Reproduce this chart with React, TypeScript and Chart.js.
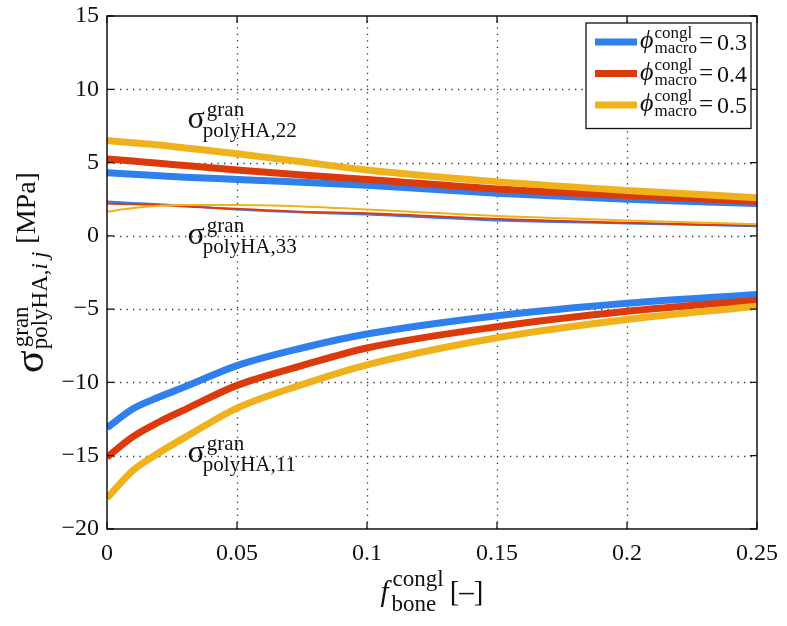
import React, { useEffect, useRef } from 'react';
import { Chart, registerables } from 'chart.js';

Chart.register(...registerables);

// ---- data ----
const fBone = [0, 0.01, 0.02, 0.03, 0.05, 0.075, 0.1, 0.15, 0.2, 0.25];
const phiMacro = [0.3, 0.4, 0.5];
const seriesColors = ['#2f80ed', '#dd3a0c', '#efb21c'];

const sigma11_phi03 = [-13.1, -11.8, -11.0, -10.3, -8.85, -7.65, -6.7, -5.45, -4.6, -4.0];
const sigma11_phi04 = [-15.1, -13.7, -12.7, -11.85, -10.2, -8.85, -7.65, -6.2, -5.15, -4.4];
const sigma11_phi05 = [-17.9, -16.0, -14.8, -13.75, -11.75, -10.15, -8.8, -6.95, -5.7, -4.8];

const sigma22_phi03 = [4.3, 4.2, 4.1, 4.0, 3.85, 3.65, 3.45, 2.9, 2.5, 2.2];
const sigma22_phi04 = [5.25, 5.1, 4.95, 4.8, 4.5, 4.15, 3.85, 3.2, 2.75, 2.35];
const sigma22_phi05 = [6.5, 6.35, 6.2, 6.0, 5.6, 5.05, 4.5, 3.7, 3.1, 2.6];

const sigma33_phi03 = [2.35, 2.25, 2.15, 2.05, 1.8, 1.6, 1.45, 1.05, 0.85, 0.65];
const sigma33_phi04 = [2.2, 2.15, 2.1, 2.0, 1.85, 1.65, 1.55, 1.15, 0.9, 0.7];
const sigma33_phi05 = [1.65, 1.9, 2.05, 2.1, 2.1, 2.0, 1.8, 1.35, 1.05, 0.8];

const xTicks = [0, 0.05, 0.1, 0.15, 0.2, 0.25];
const yTicks = [15, 10, 5, 0, -5, -10, -15, -20];

const labelSubs = ['polyHA,22', 'polyHA,33', 'polyHA,11'];
const labelX = [0.031, 0.031, 0.031];
const labelY = [7.35, -0.55, -15.45];

const SERIF = '"Liberation Serif", "Times New Roman", serif';
const fnt = (size: number, italic = false) => `${italic ? 'italic ' : ''}${size}px ${SERIF}`;

function txt(ctx: CanvasRenderingContext2D, s: string, x: number, y: number, size: number, italic = false) {
  ctx.font = fnt(size, italic);
  ctx.fillText(s, x, y);
  return ctx.measureText(s).width;
}
function w(ctx: CanvasRenderingContext2D, s: string, size: number, italic = false) {
  ctx.font = fnt(size, italic);
  return ctx.measureText(s).width;
}

const decorPlugin = {
  id: 'decor',
  beforeDatasetsDraw(chart: any) {
    const { ctx, chartArea: a, scales } = chart;
    const xs = scales.x, ys = scales.y;
    ctx.save();
    ctx.strokeStyle = '#333';
    ctx.lineWidth = 1.3;
    ctx.setLineDash([1.3, 5.2]);
    xTicks.forEach((v) => {
      if (v === xs.min || v === xs.max) return;
      const px = Math.round(xs.getPixelForValue(v)) + 0.5;
      ctx.beginPath(); ctx.moveTo(px, a.bottom); ctx.lineTo(px, a.top); ctx.stroke();
    });
    yTicks.forEach((v) => {
      if (v === ys.min || v === ys.max) return;
      const py = Math.round(ys.getPixelForValue(v)) + 0.5;
      ctx.beginPath(); ctx.moveTo(a.left, py); ctx.lineTo(a.right, py); ctx.stroke();
    });
    ctx.restore();
  },
  afterDatasetsDraw(chart: any) {
    const { ctx, chartArea: a, scales } = chart;
    const xs = scales.x, ys = scales.y;
    ctx.save();
    // frame
    ctx.strokeStyle = '#111';
    ctx.lineWidth = 1.5;
    ctx.strokeRect(a.left, a.top, a.right - a.left, a.bottom - a.top);
    // inward ticks
    const tl = 7;
    ctx.lineWidth = 1.3;
    xTicks.forEach((v) => {
      const px = xs.getPixelForValue(v);
      ctx.beginPath();
      ctx.moveTo(px, a.bottom); ctx.lineTo(px, a.bottom - tl);
      ctx.moveTo(px, a.top); ctx.lineTo(px, a.top + tl);
      ctx.stroke();
    });
    yTicks.forEach((v) => {
      const py = ys.getPixelForValue(v);
      ctx.beginPath();
      ctx.moveTo(a.left, py); ctx.lineTo(a.left + tl, py);
      ctx.moveTo(a.right, py); ctx.lineTo(a.right - tl, py);
      ctx.stroke();
    });

    ctx.fillStyle = '#111';
    ctx.textBaseline = 'alphabetic';
    ctx.textAlign = 'left';

    // legend
    const boxW = 165, rowH = 31.5;
    const bx = a.right - 6 - boxW, by = a.top + 7;
    const boxH = rowH * phiMacro.length + 11;
    ctx.fillStyle = '#fff';
    ctx.fillRect(bx, by, boxW, boxH);
    ctx.strokeStyle = '#111';
    ctx.lineWidth = 1.3;
    ctx.strokeRect(bx, by, boxW, boxH);
    phiMacro.forEach((phi, i) => {
      const ry = by + 19 + i * rowH;
      ctx.strokeStyle = seriesColors[i];
      ctx.lineWidth = 7;
      ctx.beginPath(); ctx.moveTo(bx + 9, ry); ctx.lineTo(bx + 51, ry); ctx.stroke();
      ctx.fillStyle = '#111';
      let x = bx + 54;
      x += txt(ctx, 'ϕ', x, ry + 6, 26, true) + 1;
      const sw = w(ctx, 'congl', 17), bw = w(ctx, 'macro', 17);
      txt(ctx, 'congl', x, ry - 4, 17);
      txt(ctx, 'macro', x, ry + 11, 17);
      x += Math.max(sw, bw) + 2;
      x += txt(ctx, '=', x, ry + 7, 25) + 4;
      txt(ctx, String(phi), x, ry + 8, 24);
    });

    // curve labels
    ctx.fillStyle = '#111';
    labelSubs.forEach((sub, i) => {
      const px = xs.getPixelForValue(labelX[i]);
      const py = ys.getPixelForValue(labelY[i]);
      const sw = txt(ctx, 'σ', px, py, 32);
      txt(ctx, 'gran', px + sw + 2, py - 12, 21);
      txt(ctx, sub, px + sw - 2, py + 9, 21);
    });

    // x-axis title
    {
      const cx = (a.left + a.right) / 2;
      const base = a.bottom + 72;
      const fw = w(ctx, 'f', 29, true);
      const subw = Math.max(w(ctx, 'bone', 23), w(ctx, 'congl', 23));
      const bw = w(ctx, '[–]', 29);
      const total = fw + 3 + subw + 7 + bw;
      let x = cx - total / 2;
      txt(ctx, 'f', x, base, 29, true);
      x += fw + 3;
      txt(ctx, 'congl', x + 1, base - 15, 23);
      txt(ctx, 'bone', x, base + 10, 23);
      x += subw + 7;
      txt(ctx, '[–]', x, base, 29);
    }

    // y-axis title (rotated)
    {
      const cy = (a.top + a.bottom) / 2;
      ctx.save();
      ctx.translate(38, cy);
      ctx.rotate(-Math.PI / 2);
      const sgw = w(ctx, 'σ', 42);
      const p1 = w(ctx, 'polyHA,', 23);
      const iw = w(ctx, 'i', 23, true);
      const jw = w(ctx, 'j', 23, true);
      const subw = p1 + iw + 5 + jw;
      const supw = w(ctx, 'gran', 23);
      const mw = w(ctx, '[MPa]', 28);
      const total = sgw + 1 + Math.max(subw, supw) + 8 + mw;
      let x = -total / 2;
      txt(ctx, 'σ', x, 5, 42);
      x += sgw + 1;
      txt(ctx, 'gran', x + 2, -10, 23);
      txt(ctx, 'polyHA,', x, 9, 23);
      txt(ctx, 'i', x + p1, 9, 23, true);
      txt(ctx, 'j', x + p1 + iw + 5, 9, 23, true);
      x += Math.max(subw, supw) + 8;
      txt(ctx, '[MPa]', x, -3, 28);
      ctx.restore();
    }
    ctx.restore();
  },
};

function makeSeries(values: number[], color: string, width: number, order: number) {
  return {
    data: fBone.map((f, k) => ({ x: f, y: values[k] })),
    borderColor: color,
    backgroundColor: color,
    borderWidth: width,
    pointRadius: 0,
    cubicInterpolationMode: 'monotone' as const,
    fill: false,
    order,
  };
}

export default function App() {
  const ref = useRef<HTMLCanvasElement | null>(null);
  useEffect(() => {
    if (!ref.current) return;
    const thick = [sigma11_phi03, sigma11_phi04, sigma11_phi05];
    const thick2 = [sigma22_phi03, sigma22_phi04, sigma22_phi05];
    const thin = [sigma33_phi03, sigma33_phi04, sigma33_phi05];
    const datasets: any[] = [];
    phiMacro.forEach((_, i) => {
      const order = 2 - i;
      datasets.push(makeSeries(thick[i], seriesColors[i], 7, order));
      datasets.push(makeSeries(thick2[i], seriesColors[i], 7, order));
      datasets.push(makeSeries(thin[i], seriesColors[i], 2, order));
    });
    const chart = new Chart(ref.current, {
      type: 'line',
      data: { datasets },
      plugins: [decorPlugin],
      options: {
        animation: false,
        responsive: false,
        maintainAspectRatio: false,
        layout: { padding: { top: 16, right: 30, left: 0, bottom: 0 } },
        plugins: { legend: { display: false }, tooltip: { enabled: false } },
        scales: {
          x: {
            type: 'linear',
            min: 0,
            max: 0.25,
            afterBuildTicks: (s: any) => { s.ticks = xTicks.map((v) => ({ value: v })); },
            afterFit: (s: any) => {
              s.height = 97;
              s.paddingLeft = 0; s.paddingRight = 0; s.paddingTop = 0; s.paddingBottom = 0;
            },
            grid: { display: false, drawTicks: false },
            border: { display: false },
            ticks: {
              padding: 10,
              color: '#111',
              font: { family: 'Liberation Serif', size: 24 },
              maxRotation: 0,
              autoSkip: false,
              callback: (v: any) => String(Number(Number(v).toFixed(2))),
            },
          },
          y: {
            type: 'linear',
            min: -20,
            max: 15,
            afterBuildTicks: (s: any) => { s.ticks = yTicks.map((v) => ({ value: v })); },
            afterFit: (s: any) => {
              s.width = 107;
              s.paddingLeft = 0; s.paddingRight = 0; s.paddingTop = 0; s.paddingBottom = 0;
            },
            grid: { display: false, drawTicks: false },
            border: { display: false },
            ticks: {
              padding: 8,
              color: '#111',
              font: { family: 'Liberation Serif', size: 24 },
              autoSkip: false,
              callback: (v: any) => (Number(v) < 0 ? '\u2212' + Math.abs(Number(v)) : String(v)),
            },
          },
        },
      },
    });
    return () => chart.destroy();
  }, []);
  return (
    <div style={{ position: 'fixed', left: 0, top: 0, width: 787, height: 626, background: '#fff' }}>
      <canvas ref={ref} width={787} height={626} style={{ display: 'block', width: 787, height: 626 }} />
    </div>
  );
}
